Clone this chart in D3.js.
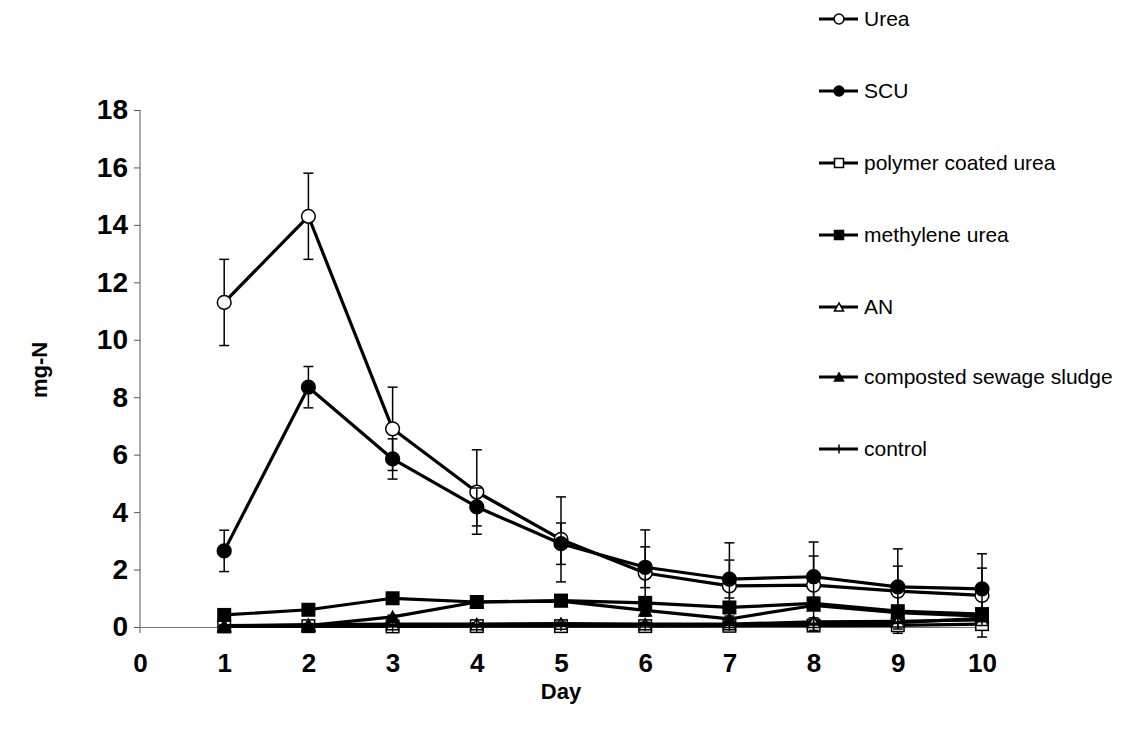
<!DOCTYPE html>
<html>
<head>
<meta charset="utf-8">
<script src="https://cdn.jsdelivr.net/npm/d3@7"></script>
<style>
  html, body { margin: 0; padding: 0; background: #fff; }
  svg { display: block; font-family: Arial, "Liberation Sans", sans-serif; }
</style>
</head>
<body>
<div id="chart"></div>
<script>
// data
const days = [1, 2, 3, 4, 5, 6, 7, 8, 9, 10];
const xTicks = [0, 1, 2, 3, 4, 5, 6, 7, 8, 9, 10];
const yTicks = [0, 2, 4, 6, 8, 10, 12, 14, 16, 18];

const seriesNames = ["Urea", "SCU", "polymer coated urea", "methylene urea", "AN", "composted sewage sludge", "control"];
const seriesMarkers = ["circleOpen", "circleFilled", "squareOpen", "squareFilled", "triangleOpen", "triangleFilled", "plus"];

const ureaValues = [11.3, 14.3, 6.9, 4.7, 3.05, 1.88, 1.43, 1.46, 1.25, 1.1];
const ureaErr = [1.5, 1.5, 1.45, 1.47, 1.48, 1.5, 1.5, 1.5, 1.47, 1.45];
const scuValues = [2.65, 8.35, 5.85, 4.18, 2.9, 2.08, 1.67, 1.75, 1.4, 1.33];
const scuErr = [0.72, 0.72, 0.7, 0.66, 0.72, 0.71, 0.66, 0.72, 0.72, 0.72];
const pcuValues = [0.02, 0.03, 0.02, 0.03, 0.03, 0.03, 0.04, 0.05, 0.06, 0.1];
const pcuErr = [0.02, 0.02, 0.03, 0.03, 0.04, 0.04, 0.05, 0.05, 0.06, 0.08];
const muValues = [0.42, 0.6, 1.0, 0.87, 0.92, 0.84, 0.68, 0.82, 0.55, 0.45];
const muErr = [0.05, 0.05, 0.06, 0.05, 0.06, 0.07, 0.06, 0.08, 0.06, 0.05];
const anValues = [0.05, 0.08, 0.1, 0.1, 0.12, 0.1, 0.1, 0.18, 0.2, 0.25];
const anErr = [0.03, 0.04, 0.04, 0.05, 0.05, 0.05, 0.05, 0.06, 0.06, 0.06];
const sludgeValues = [0.02, 0.05, 0.35, 0.87, 0.9, 0.58, 0.28, 0.75, 0.5, 0.38];
const sludgeErr = [0.02, 0.03, 0.06, 0.06, 0.07, 0.08, 0.1, 0.1, 0.08, 0.06];
const controlValues = [0.02, 0.03, 0.05, 0.05, 0.08, 0.08, 0.08, 0.1, 0.15, 0.3];
const controlErr = [0.02, 0.03, 0.04, 0.05, 0.06, 0.08, 0.1, 0.22, 0.22, 0.1];

const seriesValues = [ureaValues, scuValues, pcuValues, muValues, anValues, sludgeValues, controlValues];
const seriesErr = [ureaErr, scuErr, pcuErr, muErr, anErr, sludgeErr, controlErr];

const width = 1128, height = 736;

const svg = d3.select("#chart").append("svg")
  .attr("width", width)
  .attr("height", height);

const x = d3.scaleLinear().domain([0, 10]).range([140, 982]);
const y = d3.scaleLinear().domain([0, 18]).range([627, 110]);

// axes
const yAxis = svg.append("g")
  .attr("transform", `translate(${x(0)},0)`)
  .call(d3.axisLeft(y).tickValues(yTicks).tickSize(6).tickPadding(6).tickSizeOuter(0));
yAxis.select(".domain").remove();
yAxis.selectAll(".tick line").attr("stroke", "#555").attr("stroke-width", 1);
yAxis.selectAll(".tick text")
  .attr("font-size", 28).attr("font-weight", "bold").attr("fill", "#000")
  .attr("font-family", "Arial, 'Liberation Sans', sans-serif");

svg.append("line")
  .attr("x1", x(0)).attr("x2", x(0))
  .attr("y1", y(18)).attr("y2", y(0) + 6)
  .attr("stroke", "#555").attr("stroke-width", 1);

const xAxis = svg.append("g")
  .attr("transform", `translate(0,${y(0)})`)
  .call(d3.axisBottom(x).tickValues(xTicks).tickSize(0).tickPadding(27).tickSizeOuter(0));
xAxis.select(".domain").attr("stroke", "#777").attr("stroke-width", 1);
xAxis.selectAll(".tick text")
  .attr("font-size", 26).attr("font-weight", "bold").attr("fill", "#000")
  .attr("font-family", "Arial, 'Liberation Sans', sans-serif");

svg.append("text")
  .attr("x", 561).attr("y", 699)
  .attr("text-anchor", "middle")
  .attr("font-size", 22).attr("font-weight", "bold")
  .text("Day");

svg.append("text")
  .attr("transform", "translate(47,370) rotate(-90)")
  .attr("text-anchor", "middle")
  .attr("font-size", 22).attr("font-weight", "bold")
  .text("mg-N");

// marker drawing
function drawMarker(g, type, cx, cy, s) {
  if (type === "circleOpen" || type === "circleFilled") {
    g.append("circle").attr("cx", cx).attr("cy", cy).attr("r", s * 0.55)
      .attr("fill", type === "circleOpen" ? "#fff" : "#000")
      .attr("stroke", "#000").attr("stroke-width", 1.5);
  } else if (type === "squareOpen" || type === "squareFilled") {
    g.append("rect").attr("x", cx - s / 2).attr("y", cy - s / 2)
      .attr("width", s).attr("height", s)
      .attr("fill", type === "squareOpen" ? "#fff" : "#000")
      .attr("stroke", "#000").attr("stroke-width", 1.5);
  } else if (type === "triangleOpen" || type === "triangleFilled") {
    const h = s * 0.9;
    g.append("path")
      .attr("d", `M${cx},${cy - h / 2}L${cx + s / 2},${cy + h / 2}L${cx - s / 2},${cy + h / 2}Z`)
      .attr("fill", type === "triangleOpen" ? "#fff" : "#000")
      .attr("stroke", "#000").attr("stroke-width", 1.5);
  } else if (type === "plus") {
    g.append("line").attr("x1", cx).attr("x2", cx)
      .attr("y1", cy - s / 2).attr("y2", cy + s / 2)
      .attr("stroke", "#000").attr("stroke-width", 1.5);
    g.append("line").attr("x1", cx - s / 2).attr("x2", cx + s / 2)
      .attr("y1", cy).attr("y2", cy)
      .attr("stroke", "#000").attr("stroke-width", 1.5);
  }
}

const line = d3.line().x((d) => x(d.day)).y((d) => y(d.v));

seriesNames.forEach((name, i) => {
  const data = days.map((d, j) => ({ day: d, v: seriesValues[i][j], e: seriesErr[i][j] }));
  const g = svg.append("g").attr("class", "series");

  // error bars
  data.forEach((d) => {
    const cx = x(d.day);
    g.append("line").attr("x1", cx).attr("x2", cx)
      .attr("y1", y(d.v + d.e)).attr("y2", y(d.v - d.e))
      .attr("stroke", "#000").attr("stroke-width", 1.5);
    [d.v + d.e, d.v - d.e].forEach((t) => {
      g.append("line").attr("x1", cx - 5).attr("x2", cx + 5)
        .attr("y1", y(t)).attr("y2", y(t))
        .attr("stroke", "#000").attr("stroke-width", 1.5);
    });
  });

  g.append("path").datum(data)
    .attr("d", line)
    .attr("fill", "none")
    .attr("stroke", "#000")
    .attr("stroke-width", 3.2)
    .attr("stroke-linejoin", "round");

  data.forEach((d) => drawMarker(g, seriesMarkers[i], x(d.day), y(d.v), 12.5));
});

// legend
const legendY = [19, 91, 163, 235, 307, 377, 449];
seriesNames.forEach((name, i) => {
  const g = svg.append("g").attr("transform", `translate(0,${legendY[i]})`);
  g.append("line").attr("x1", 819).attr("x2", 858).attr("y1", 0).attr("y2", 0)
    .attr("stroke", "#000").attr("stroke-width", 3);
  drawMarker(g, seriesMarkers[i], 839, 0, 9);
  g.append("text").attr("x", 864).attr("y", 7)
    .attr("font-size", 21)
    .text(name);
});
</script>
</body>
</html>
